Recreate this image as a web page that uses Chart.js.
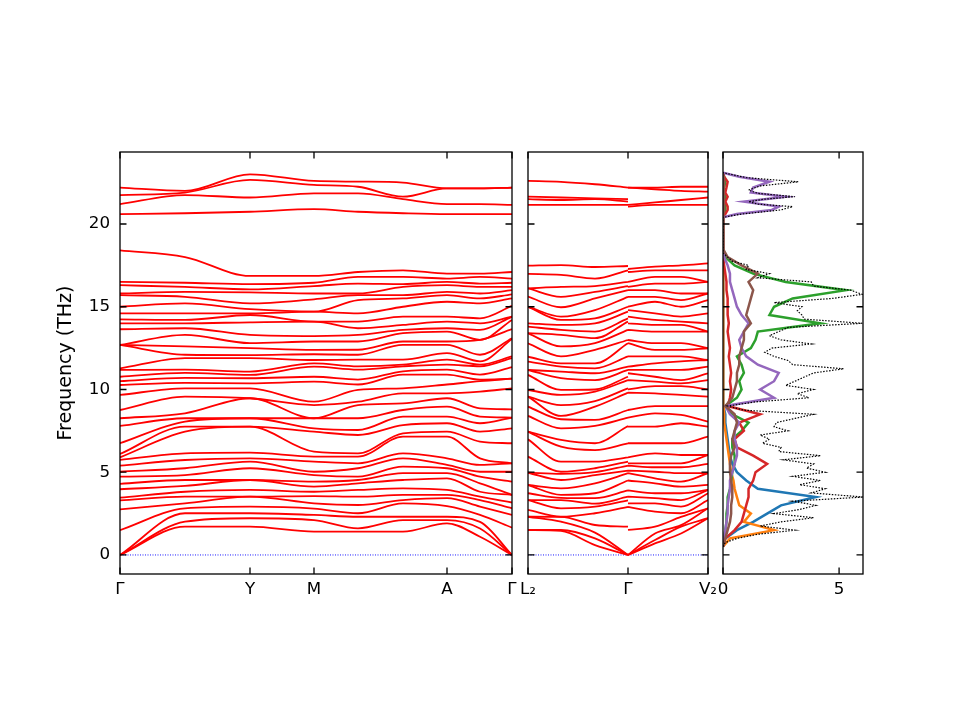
<!DOCTYPE html>
<html>
<head>
<meta charset="utf-8">
<script src="https://cdn.jsdelivr.net/npm/chart.js@4.4.0/dist/chart.umd.min.js"></script>
<style>
  html, body { margin: 0; padding: 0; background: #fff; }
  #wrap { position: relative; width: 960px; height: 720px; overflow: hidden; }
  canvas { position: absolute; top: 0; }
</style>
</head>
<body>
<div id="wrap">
  <canvas id="bands1" width="520" height="720" style="left:0px"></canvas>
  <canvas id="bands2" width="210" height="720" style="left:510px"></canvas>
  <canvas id="dos" width="250" height="720" style="left:710px"></canvas>
</div>
<script>
// ---- axes ----
const yTicks = [0, 5, 10, 15, 20];
const yMin = -1.15, yMax = 24.35;

// ---- panel 1: Γ - Y - M - A - Γ (x = path distance) ----
const kx1 = [0, 65, 130, 194, 238, 283, 327, 360, 392];
const kTicks1 = [0, 130, 194, 327, 392];
const kLabels1 = ['Γ', 'Y', 'M', 'A', 'Γ'];

// frequencies (THz) of the 42 branches at each sampled k-point, lowest first
const bandsG1  = [0,0,0,1.5,2.76,3.3,3.46,3.97,4.3,4.73,5.03,5.4,5.74,5.9,6.1,6.75,7.8,8.26,8.76,9.67,10.27,10.5,10.77,11.18,11.28,12.69,12.69,12.69,13.64,14.0,14.24,14.6,15.0,15.7,15.8,16.3,16.5,18.4,20.6,21.2,21.75,22.2];
const bandsGY  = [1.71,2.01,2.52,2.82,3.12,3.52,3.82,4.17,4.53,4.83,5.24,5.74,6.14,7.45,7.75,8.06,8.26,8.56,9.57,10.07,10.4,10.7,11.0,11.2,11.9,12.1,12.6,13.3,13.7,14.0,14.2,14.6,15.2,15.6,15.9,16.2,16.45,18.0,20.65,21.75,21.9,22.0];
const bandsY   = [1.71,2.22,2.52,2.92,3.52,3.52,3.93,4.53,4.53,5.24,5.64,5.84,6.18,7.75,7.75,8.26,8.26,9.47,9.47,10.07,10.37,10.68,10.88,11.08,11.9,12.08,12.5,12.8,13.3,14.06,14.5,14.6,14.85,15.2,15.87,16.05,16.37,16.86,20.74,21.6,22.66,23.0];
const bandsM   = [1.41,2.11,2.42,2.8,3.12,3.56,3.82,4.13,4.43,4.83,5.03,5.64,5.94,6.24,7.45,7.65,8.26,8.26,9.06,9.26,10.47,10.77,11.38,11.58,11.78,12.13,12.39,12.9,13.23,14.1,14.1,14.7,14.7,15.45,15.8,16.25,16.45,16.86,20.9,21.85,22.36,22.6];
const bandsMA1 = [1.41,1.61,2.31,2.52,3.02,3.52,3.93,4.33,4.53,4.73,5.24,5.54,5.94,6.14,7.25,7.55,8.26,9.06,9.26,9.97,10.3,10.6,11.2,11.4,11.8,12.1,12.4,12.9,13.3,13.7,14.1,14.6,15.4,15.7,15.8,16.4,16.8,17.1,20.74,21.85,22.25,22.56];
const bandsMA2 = [1.41,2.11,2.31,3.12,3.32,3.63,4.03,4.53,4.94,5.34,5.84,6.14,7.15,7.35,7.85,8.36,8.76,9.16,9.77,10.07,10.9,11.1,11.4,11.5,11.8,12.7,12.9,13.4,13.6,13.9,14.4,15.0,15.5,15.7,16.2,16.37,16.8,17.2,20.65,21.5,21.65,22.5];
const bandsA   = [1.91,2.11,2.31,2.95,3.43,3.63,3.93,4.63,4.94,5.24,5.44,5.84,7.15,7.45,7.96,8.36,8.96,9.47,9.77,10.3,10.9,11.2,11.5,11.8,12.2,12.7,12.9,13.5,13.7,14.1,14.4,15.3,15.7,15.9,16.3,16.5,16.7,17.0,20.6,21.2,22.15,22.15];
const bandsAG  = [1.1,1.6,2.0,2.42,2.92,3.32,3.52,3.82,4.33,4.73,5.03,5.44,5.84,6.85,7.45,7.96,8.36,8.86,9.87,10.5,10.6,10.9,11.4,11.5,11.7,12.1,13.0,13.0,13.6,14.0,14.3,15.2,15.5,15.8,16.2,16.4,16.8,17.0,20.6,21.2,22.15,22.15];
const bandsG2  = [0,0,0,1.65,2.42,2.82,3.17,3.63,3.63,4.43,5.03,5.54,5.54,6.75,7.65,8.3,8.3,8.8,10.07,10.65,10.65,11.35,11.9,12.0,13.05,13.1,13.65,14.2,14.4,14.4,15.05,15.5,15.75,16.0,16.2,16.45,16.7,17.1,20.6,21.15,22.2,22.2];

// ---- panel 2: L2 - Γ | Γ - V2 ----
const kx2Left = [0, 33, 67, 100];
const kx2Right = [100, 127, 153, 180];
const kTicks2 = [0, 100, 180];
const kLabels2 = ['L₂', 'Γ', 'V₂'];

const bandsL2  = [1.51,1.51,2.31,2.31,2.72,3.32,3.32,3.73,4.23,4.23,4.97,4.97,5.94,6.99,7.45,7.45,8.4,8.96,9.57,9.57,9.97,10.88,11.18,11.18,11.68,11.98,12.79,13.4,13.4,13.8,14.0,15.0,15.0,15.61,16.11,16.11,16.98,17.48,21.15,21.5,21.65,22.6];
const bandsLG1 = [1.45,1.51,2.01,2.3,2.31,2.82,3.32,3.45,3.63,4.03,4.53,4.9,5.03,5.64,6.54,6.95,7.65,8.2,8.4,9.06,9.67,9.97,10.68,11.08,11.38,11.58,12.0,12.6,13.3,13.6,13.9,14.2,14.4,14.97,15.6,16.2,16.92,17.52,21.15,21.45,21.6,22.55];
const bandsLG2 = [0.6,1.0,1.35,1.81,2.52,2.92,3.1,3.43,3.73,4.33,4.83,5.0,5.24,5.64,6.34,6.75,7.8,8.16,8.96,9.3,9.87,10.0,10.57,10.98,11.28,11.58,12.4,12.8,13.1,13.5,14.0,14.3,14.8,15.5,15.9,16.25,16.7,17.4,21.15,21.5,21.55,22.4];
const bandsGL  = [0,0,0,1.71,2.9,3.3,3.52,3.9,4.5,4.94,5.1,5.4,5.64,5.9,6.75,7.79,8.3,8.76,9.81,10.07,10.57,10.77,11.18,11.38,12.0,12.79,12.99,13.6,14.1,14.3,14.7,15.0,15.6,16.0,16.25,16.5,17.2,17.46,21.15,21.35,21.5,22.2];
const bandsGV  = [0,0,0,1.51,2.9,3.12,3.52,3.9,4.5,4.94,5.1,5.4,5.54,5.9,6.75,7.75,8.3,8.76,9.81,10.0,10.57,10.98,11.18,11.38,12.0,12.8,12.99,13.6,14.0,14.4,14.8,15.0,15.6,16.0,16.2,16.5,17.1,17.28,21.05,21.15,22.2,22.2];
const bandsGV1 = [0.7,0.9,1.3,1.71,2.62,3.12,3.43,3.73,4.33,4.63,5.03,5.3,5.54,6.14,6.75,7.75,8.56,9.0,9.77,10.2,10.47,10.77,11.18,11.58,12.0,12.39,12.8,13.5,13.9,14.2,14.6,15.3,15.6,16.0,16.4,16.8,17.2,17.42,21.15,21.3,22.1,22.2];
const bandsGV2 = [1.3,1.71,1.8,2.3,2.52,2.92,3.32,3.73,4.13,4.43,4.94,5.3,5.54,6.04,6.75,7.96,8.46,9.0,9.67,10.2,10.37,10.57,11.18,11.7,12.0,12.39,12.8,13.5,13.9,14.1,14.4,15.0,15.4,15.8,16.4,16.8,17.2,17.5,21.15,21.45,22.0,22.25];
const bandsV2  = [2.22,2.22,2.82,2.82,3.32,3.73,3.93,3.93,4.23,4.94,4.94,5.5,6.04,6.04,7.15,7.75,8.06,9.0,9.57,10.0,10.57,10.98,11.38,11.78,11.78,12.49,12.49,13.5,13.5,14.0,14.6,15.4,15.8,15.8,16.5,16.5,17.2,17.62,21.15,21.6,21.95,22.25];

// ---- panel 3: DOS ----
const dosTicks = [0, 5];
const dosLabels = ['0', '5'];
const dosMax = 6.03;

const dosFreq = [0.5,0.75,1,1.25,1.5,1.75,2,2.25,2.5,2.75, 3,3.25,3.5,3.75,4,4.25,4.5,4.75,5,5.25,
  5.5,5.75,6,6.25,6.5,6.75,7,7.25,7.5,7.75, 8,8.25,8.5,8.75,9,9.25,9.5,9.75,10,10.25,
  10.5,10.75,11,11.25,11.5,11.75,12,12.25,12.5,12.75, 13,13.25,13.5,13.75,14,14.25,14.5,14.75,15,15.25,
  15.5,15.75,16,16.25,16.5,16.75,17,17.25,17.5,17.75, 18,18.25,
  20.4,20.6,20.85,21.05,21.2,21.35,21.5,21.65,21.85,22.05,22.3,22.55,22.8,23.1];
const dosTotal = [0,0.1,0.6,1.5,3.1,1.6,2.5,3.9,2.2,3.3, 4.0,3.0,6.05,3.8,4.4,3.3,4.2,3.0,4.4,3.6,
  3.9,2.6,4.2,2.4,2.5,1.7,2.0,1.6,2.8,2.2, 2.3,3.1,3.9,0.9,0.2,1.4,3.7,3.2,3.9,2.7,
  3.1,3.5,3.9,5.2,3.0,2.8,2.2,1.8,2.1,3.8, 2.5,2.0,2.4,2.8,6.0,3.5,3.4,3.2,3.4,2.2,
  4.7,6.0,5.5,3.9,3.8,1.5,2.0,1.0,1.1,0.4, 0.2,0,
  0,0.8,2.5,3.0,1.5,1.1,1.8,3.1,1.5,1.1,1.6,3.25,1.0,0];

const pdosFreq = [0.5,1,1.5,2,2.5,3,3.5,4,4.5,5, 5.5,6,6.5,7,7.5,8,8.5,9,9.5,10,
  10.5,11,11.5,12,12.5,13,13.5,14,14.5,15, 15.5,16,16.5,17,17.5,18,18.5,
  20.4,20.6,20.85,21.05,21.35,21.65,21.9,22.2,22.55,22.85,23.1];
const pdosBlue   = [0,0.1,0.6,1.3,1.9,2.5,4.0,1.5,1.0,0.6, 0.4,0.3,0.25,0.2,0.15,0.1,0.1,0.02,0.03,0.03,
  0.02,0.02,0.02,0.02,0.02,0.02,0.02,0.02,0.02,0.02, 0.02,0.02,0.02,0.01,0.01,0,0, 0,0,0,0,0,0,0,0,0,0,0];
const pdosOrange = [0,0.3,2.2,0.9,1.2,0.7,0.6,0.5,0.45,0.35, 0.3,0.25,0.2,0.15,0.1,0.05,0.05,0.02,0.02,0.02,
  0.02,0.02,0.02,0.02,0.02,0.02,0.02,0.02,0.02,0.02, 0.02,0.01,0.01,0.01,0,0,0, 0,0,0,0,0,0,0,0,0,0,0];
const pdosGreen  = [0,0.05,0.1,0.15,0.15,0.2,0.2,0.3,0.35,0.4, 0.5,0.5,0.4,0.4,0.8,1.1,0.4,0.1,0.6,0.8,
  0.7,0.9,0.8,0.6,1.2,1.4,1.5,4.2,2.0,2.2, 3.0,5.3,2.7,1.3,0.5,0.1,0, 0,0.05,0.1,0.1,0.05,0.1,0.05,0.05,0.1,0.05,0];
const pdosRed    = [0,0.1,0.5,0.8,0.9,1.0,1.1,1.1,1.3,1.4, 1.9,1.3,0.6,0.5,0.9,0.7,1.6,0.2,0.3,0.35,
  0.3,0.35,0.3,0.25,0.3,0.25,0.2,0.25,0.2,0.2, 0.2,0.15,0.15,0.1,0.05,0,0, 0,0.1,0.2,0.2,0.1,0.2,0.1,0.15,0.2,0.05,0];
const pdosPurple = [0,0.05,0.1,0.15,0.2,0.2,0.25,0.3,0.3,0.4, 0.5,0.6,0.6,0.5,0.5,0.7,0.3,0.1,2.2,1.6,
  2.2,2.4,1.5,1.0,0.8,0.7,0.9,1.1,0.8,0.6, 0.5,0.4,0.3,0.3,0.2,0.05,0, 0,0.6,2.1,2.4,0.9,2.7,1.2,1.3,2.0,0.7,0];
const pdosBrown  = [0,0.1,0.2,0.3,0.35,0.35,0.4,0.4,0.35,0.3, 0.3,0.35,0.5,0.4,0.5,0.6,0.5,0.1,0.4,0.5,
  0.6,0.6,0.7,0.7,0.8,0.9,0.9,1.2,1.0,1.1, 1.2,1.3,1.1,1.5,0.8,0.2,0, 0,0.03,0.05,0.05,0.03,0.05,0.03,0.03,0.05,0.03,0];

Chart.defaults.font.family = '"DejaVu Sans", sans-serif';
Chart.defaults.font.size = 16.7;
Chart.defaults.color = '#000';

// matplotlib-style frame with inward ticks on all four sides
const frameTicks = {
  id: 'frameTicks',
  afterDatasetsDraw(chart, args, opts) {
    const { ctx, chartArea: a, scales: { x, y } } = chart;
    ctx.save();
    ctx.strokeStyle = '#000';
    ctx.lineWidth = 1.3;
    ctx.strokeRect(a.left, a.top, a.right - a.left, a.bottom - a.top);
    ctx.beginPath();
    opts.xTicks.forEach(v => {
      const px = x.getPixelForValue(v);
      ctx.moveTo(px, a.bottom); ctx.lineTo(px, a.bottom - 6.5);
      ctx.moveTo(px, a.top); ctx.lineTo(px, a.top + 6.5);
    });
    yTicks.forEach(v => {
      const py = y.getPixelForValue(v);
      ctx.moveTo(a.left, py); ctx.lineTo(a.left + 6.5, py);
      ctx.moveTo(a.right, py); ctx.lineTo(a.right - 6.5, py);
    });
    ctx.stroke();
    ctx.restore();
  }
};

const xScale = (max, ticks, labels) => ({
  type: 'linear', min: 0, max,
  grid: { display: false, drawTicks: false },
  border: { display: false },
  afterBuildTicks: s => { s.ticks = ticks.map(v => ({ value: v })); },
  afterFit: s => { s.height = 146; s.paddingLeft = 0; s.paddingRight = 0; },
  ticks: { autoSkip: false, maxRotation: 0, padding: 6, callback: (v, i) => labels[i] }
});

const yScale = show => ({
  type: 'linear', min: yMin, max: yMax, display: show,
  grid: { display: false, drawTicks: false },
  border: { display: false },
  afterBuildTicks: s => { s.ticks = yTicks.map(v => ({ value: v })); },
  afterFit: s => { if (show) s.width = 69; s.paddingTop = 0; s.paddingBottom = 0; },
  ticks: { padding: 10 },
  title: { display: show, text: 'Frequency (THz)', font: { size: 19 }, padding: { top: 4, bottom: 0 } }
});

const bandStyle = {
  borderColor: '#ff0000', borderWidth: 1.8, pointRadius: 0,
  cubicInterpolationMode: 'monotone', fill: false
};
const zeroStyle = {
  borderColor: '#1a1aff', borderWidth: 1, borderDash: [1, 1.5],
  pointRadius: 0, fill: false
};

const makeChart = (id, datasets, max, ticks, labels, showY, pad) => new Chart(document.getElementById(id), {
  type: 'line',
  data: { datasets },
  options: {
    responsive: false,
    animation: false,
    events: [],
    layout: { padding: pad },
    plugins: { legend: { display: false }, tooltip: { enabled: false }, frameTicks: { xTicks: ticks } },
    scales: { x: xScale(max, ticks, labels), y: yScale(showY) }
  },
  plugins: [frameTicks]
});

// panel 1
const cols1 = [bandsG1, bandsGY, bandsY, bandsM, bandsMA1, bandsMA2, bandsA, bandsAG, bandsG2];
const sets1 = bandsG1.map((_, b) => ({
  ...bandStyle,
  data: kx1.map((x, j) => ({ x, y: cols1[j][b] }))
}));
sets1.push({ ...zeroStyle, data: [{ x: kx1[0], y: 0 }, { x: kx1[kx1.length - 1], y: 0 }] });
makeChart('bands1', sets1, kx1[kx1.length - 1], kTicks1, kLabels1, true,
  { left: 51, right: 8, top: 152, bottom: 0 });

// panel 2 (branches break at Γ)
const cols2L = [bandsL2, bandsLG1, bandsLG2, bandsGL];
const cols2R = [bandsGV, bandsGV1, bandsGV2, bandsV2];
const sets2 = bandsL2.map((_, b) => ({
  ...bandStyle,
  data: [
    ...kx2Left.map((x, j) => ({ x, y: cols2L[j][b] })),
    { x: kx2Left[kx2Left.length - 1], y: null },
    ...kx2Right.map((x, j) => ({ x, y: cols2R[j][b] }))
  ]
}));
sets2.push({ ...zeroStyle, data: [{ x: kx2Left[0], y: 0 }, { x: kx2Right[kx2Right.length - 1], y: 0 }] });
makeChart('bands2', sets2, kx2Right[kx2Right.length - 1], kTicks2, kLabels2, false,
  { left: 18, right: 12, top: 152, bottom: 0 });

// panel 3: DOS (x = density, y = frequency)
const pdos = [
  ['#8c564b', pdosBrown], ['#9467bd', pdosPurple], ['#d62728', pdosRed],
  ['#2ca02c', pdosGreen], ['#ff7f0e', pdosOrange], ['#1f77b4', pdosBlue]
];
const sets3 = [{
  borderColor: '#000', borderWidth: 1.2, borderDash: [1.5, 1.5], pointRadius: 0, tension: 0, fill: false,
  data: dosFreq.map((f, i) => ({ x: dosTotal[i], y: f }))
}];
pdos.forEach(([color, vals]) => sets3.push({
  borderColor: color, borderWidth: 2.5, pointRadius: 0, tension: 0, fill: false,
  data: pdosFreq.map((f, i) => ({ x: vals[i], y: f }))
}));
makeChart('dos', sets3, dosMax, dosTicks, dosLabels, false,
  { left: 13, right: 97, top: 152, bottom: 0 });
</script>
</body>
</html>
